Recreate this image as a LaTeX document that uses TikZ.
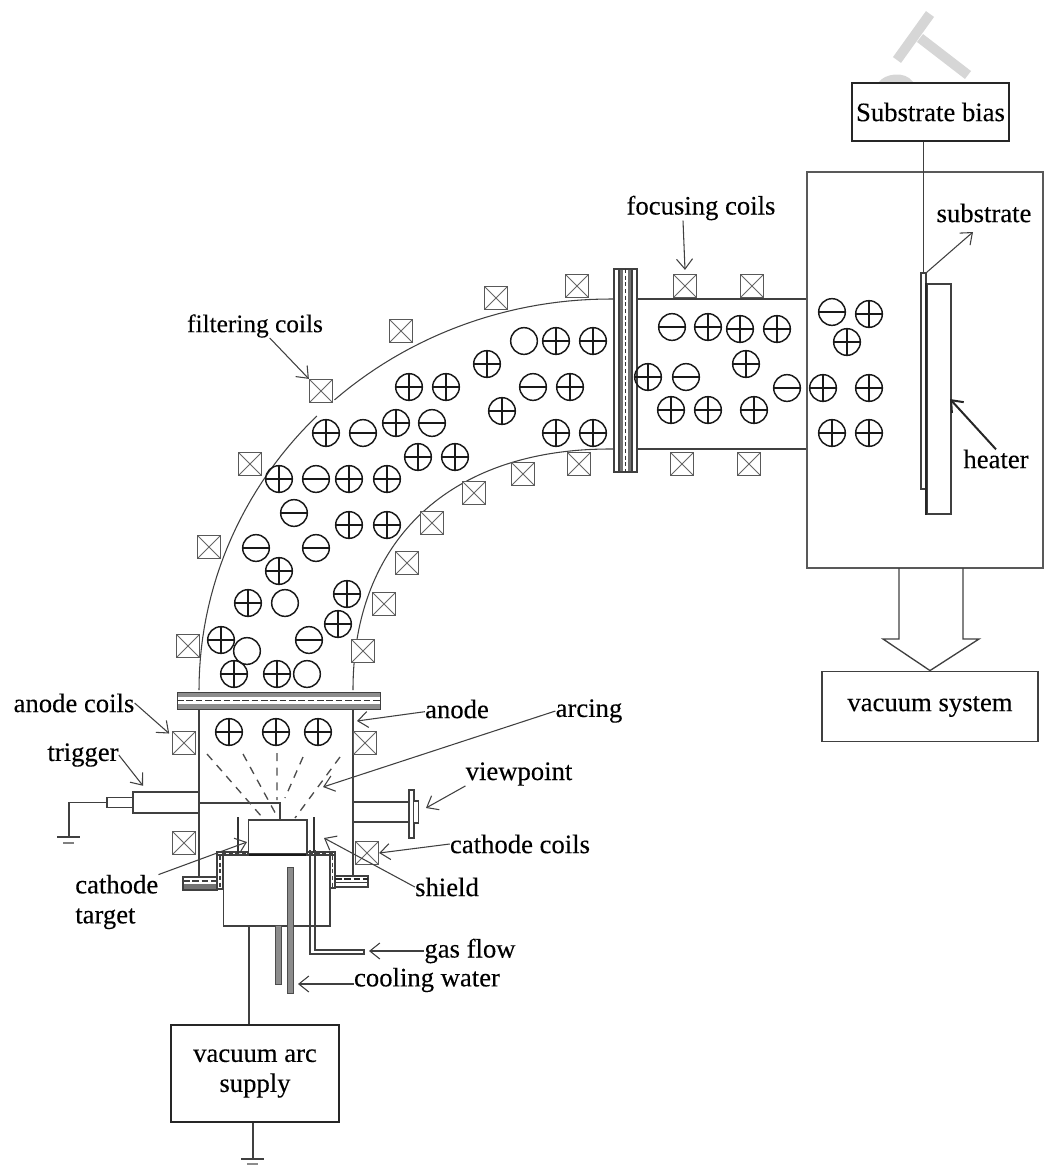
\documentclass[tikz,border=0pt]{standalone}
\usepackage{fontspec}
\setmainfont[FakeBold=0.2]{Liberation Serif}
\usetikzlibrary{arrows.meta,positioning,calc}
\colorlet{wallc}{black!75}
\colorlet{markc}{black!90}
\tikzset{
  lbl/.style={inner sep=0pt,font=\fontsize{20}{22.5}\selectfont,text=black},
  boxnode/.style={draw=black!85,line width=1.1pt,fill=white,inner sep=0pt,align=center,font=\fontsize{20}{22.5}\selectfont,text=black},
  lead/.style={draw=black!75,line width=0.8pt,-{Straight Barb[length=7.5pt,width=12pt]}},
  wall/.style={draw=wallc,line width=0.9pt},
  coil/.style={draw=black!65,fill=white,line width=1.2pt,inner sep=0pt,minimum size=17pt,
    path picture={\draw[black!60,line width=0.7pt] (path picture bounding box.north west) -- (path picture bounding box.south east)
      (path picture bounding box.north east) -- (path picture bounding box.south west);}},
  ionzero/.style={circle,draw=markc,line width=1.1pt,inner sep=0pt,minimum size=20pt},
  ionplus/.style={ionzero,path picture={\draw[markc,line width=1pt] (path picture bounding box.north) -- (path picture bounding box.south)
      (path picture bounding box.west) -- (path picture bounding box.east);}},
  ionminus/.style={ionzero,path picture={\draw[markc,line width=1pt] (path picture bounding box.west) -- (path picture bounding box.east);}},
  tube/.style={draw=black!70,fill=black!45,line width=0.6pt,inner sep=0pt},
  plain/.style={draw=wallc,fill=white,line width=0.9pt,inner sep=0pt},
  ray/.style={draw=black!70,line width=1pt,dash pattern=on 6pt off 5pt},
}
\begin{document}
\begin{tikzpicture}[x=0.75pt,y=-0.75pt]
  \useasboundingbox (0,0) rectangle (1047,1165);
  % pale stamp behind the bias box
  \draw[black!16,line width=7.5pt] (930,14) -- (897,60) (920,38) -- (968,75);
  \fill[black!16] (879,82) .. controls (884,74) and (905,70) .. (913,82) -- cycle;

  % filter duct
  \draw[wall,line width=0.8pt] plot[domain=0:44.5,samples=30] ({610-411*cos(\x)},{690-391*sin(\x)});
  \draw[wall,line width=0.8pt] plot[domain=47.9:90,samples=30] ({610-411*cos(\x)},{690-391*sin(\x)}) -- (614,299);
  \draw[wall,line width=0.8pt] (353,690) .. controls (353,540) and (450,449) .. (610,449) -- (614,449);
  % focusing duct
  \draw[wall] (637,299) -- (807,299) (637,449) -- (807,449);
  % chamber
  \node[draw=black!65,line width=1.1pt,inner sep=0pt,minimum width=177pt,minimum height=297pt] (chamber) at (925,370) {};
  % bias
  \node[boxnode,minimum width=118pt,minimum height=43.5pt] (boxbias) at (930.5,112) {Substrate bias};
  \node[plain,minimum width=3.75pt,minimum height=162pt] (subst) at (923.5,381) {};
  \node[plain,minimum width=18pt,minimum height=172.5pt] (heater) at (939,399) {};
  \draw[black!85,line width=1.4pt] (heater.north west) -- (heater.south west);
  \draw[wall,line width=1.1pt] (boxbias.south -| subst.north) -- (subst.north);
  % exhaust
  \node[boxnode,draw=black!75,line width=0.9pt,minimum width=162pt,minimum height=53pt] (boxvac) at (930,706.5) {vacuum system};
  \draw[wall,line width=1pt] (899,568) -- (899,639) -- (883,639) -- (boxvac.north) -- (979,639) -- (963,639) -- (963,568);

  % coupling flange
  \fill[black!55] (619,269) rectangle (632,472);
  \fill[white] (623,269) rectangle (628,472);
  \draw[wall] (614,269) rectangle (637,472) (619,269) -- (619,472) (632,269) -- (632,472);
  \draw[black!80,line width=1pt,dash pattern=on 3pt off 2pt] (625.5,269) -- (625.5,472);

  % source walls
  \draw[wall] (199,709) -- (199,877) (353,709) -- (353,876);
  % anode ring
  \fill[black!45] (177,692) rectangle (380,709);
  \fill[white] (177,697) rectangle (380,704);
  \draw[black!75,line width=0.7pt] (177,692) rectangle (380,709);
  \draw[black!80,line width=0.8pt,dash pattern=on 5pt off 2pt] (177,700.5) -- (380,700.5);
  % viewport
  \draw[wall] (353,802) -- (409,802) (353,822) -- (409,822);
  \node[plain,minimum width=3.75pt,minimum height=36pt] (viewflange) at (411.5,814) {};
  \node[plain,minimum width=3.75pt,minimum height=16.5pt] (viewglass) at (416,812) {};
  % trigger
  \node[plain,line width=1.1pt,minimum width=49.5pt,minimum height=16pt] (trigbody) at (166,802.5) {};
  \node[plain,minimum width=19.5pt,minimum height=8pt] (trigtip) at (120,802.5) {};
  \coordinate (gndtrig) at (69,837);
  \draw[wall] (trigtip.west) -| (gndtrig);
  \draw[wall] (57,837) -- (80,837);
  \draw[black!50,line width=0.8pt] (63,843) -- (74,843);
  \coordinate (trigpin) at (280,819);
  \draw[wall,line width=1pt] (199,803) -| (trigpin);

  % arc rays
  \draw[ray] (207,754) -- (262,817) (243,754) -- (278,818) (277,753) -- (277,800)
    (303,757) -- (285,798) (340,757) -- (295,818);

  % cathode block
  \node[plain,line width=1pt,minimum width=80pt,minimum height=53pt] (cathbox) at (276.5,890.5) {};
  \node[plain,line width=1pt,minimum width=44pt,minimum height=25.5pt] (target) at (277.5,837) {};
  \draw[black!90,line width=1.6pt] (target.south west) -- (target.south east);
  % shell walls
  \draw[wall,fill=white] (217,852) rectangle (223,889) (330,852) rectangle (335,888);
  \draw[wall,fill=white] (217,852) rectangle (248,855) (307,852) rectangle (335,855);
  \draw[black!75,line width=1pt,dash pattern=on 3pt off 2pt] (220,856) -- (220,889) (332.5,856) -- (332.5,888) (222,853.5) -- (246,853.5) (309,853.5) -- (333,853.5);
  % shields
  \draw[black!80,line width=1.7pt] (238,817) -- (238,853) (314,817) -- (314,853);
  % base flanges
  \fill[black!55] (183,884) rectangle (217,890);
  \draw[wall] (183,877) rectangle (217,890);
  \draw[black!75,line width=0.8pt,dash pattern=on 5pt off 2pt] (183,881) -- (217,881);
  \draw[wall] (335,876) rectangle (368,887) (335,882.5) -- (368,882.5);
  \draw[black!85,line width=1pt,dash pattern=on 5pt off 2pt] (335,879) -- (368,879);
  % gas and water tubes
  \draw[wall,line width=1pt] (310,850) -- (310,954) -- (364,954) -- (364,950) -- (315,950) -- (315,850);
  \node[tube,minimum width=5pt,minimum height=44.25pt] (tubeout) at (278.5,954.5) {};
  \node[tube,minimum width=5pt,minimum height=94.5pt] (tubein) at (290.5,930) {};

  % arc supply
  \node[boxnode,minimum width=126pt,minimum height=73pt] (boxarc) at (255,1073.5) {vacuum arc\\supply};
  \draw[wall,line width=1pt] (cathbox.south -| 249,0) -- (boxarc.north -| 249,0);
  \coordinate (gndarc) at (253,1159);
  \draw[wall,line width=1pt] (boxarc.south -| gndarc) -- (gndarc);
  \draw[wall,line width=1.1pt] (241,1159) -- (264,1159);
  \draw[black!45,line width=1pt] (247,1164) -- (258,1164);

  % coils
  \foreach \x/\y [count=\i] in {496/298,577/286,401/331,321/391,250/464,209/547,188/646,
      363/651,384/604,407/563,432/523,474/493,523/474,579/464,685/286,752/286,682/464,749/464,
      184/743,365/743,184/843,367/853}
    \node[coil] (coil\i) at (\x,\y) {};
  % ions
  \foreach \x/\y [count=\i] in {556/341,593/341,487/364,409/387,446/387,570/387,502/411,326/433,396/423,
      556/433,593/433,418/457,455/457,279/479,349/479,387/479,349/525,387/525,279/571,347/594,248/603,
      338/624,221/640,234/674,277/674,708/327,740/329,777/329,648/377,746/364,671/410,708/410,754/410,
      823/388,869/388,869/314,847/342,832/433,869/433,229/732,276/732,318/732}
    \node[ionplus] (ionp\i) at (\x,\y) {};
  \foreach \x/\y [count=\i] in {533/387,363/433,432/423,316/479,294/513,256/548,316/548,309/640,
      672/327,686/377,787/388,832/312}
    \node[ionminus] (ionm\i) at (\x,\y) {};
  \foreach \x/\y [count=\i] in {524/341,285/603,247/651,307/674}
    \node[ionzero] (ionz\i) at (\x,\y) {};

  % labels
  \node[lbl,font=\fontsize{19}{22}\selectfont] (lblfilter) at (255,326) {filtering coils};
  \node[lbl] (lblfocus) at (701,208) {focusing coils};
  \node[lbl] (lblsubst) at (984,213) {substrate};
  \node[lbl] (lblheater) at (996,459) {heater};
  \node[lbl] (lblanodec) at (74,703) {anode coils};
  \node[lbl] (lbltrig) at (83,755) {trigger};
  \node[lbl,anchor=west,align=left] (lblcath) at (75,902) {cathode\\target};
  \node[lbl] (lblanode) at (457,709) {anode};
  \node[lbl] (lblarc) at (589,711) {arcing};
  \node[lbl] (lblview) at (519,774) {viewpoint};
  \node[lbl] (lblcathc) at (520,844) {cathode coils};
  \node[lbl] (lblshield) at (447,887) {shield};
  \node[lbl] (lblgas) at (470,951) {gas flow};
  \node[lbl] (lblwater) at (427,980) {cooling water};

  % leaders
  \coordinate (tipsubst) at (973,232);
  \coordinate (tipheater) at (950,399);
  \coordinate (tipanode) at (357,721);
  \coordinate (tiparc) at (323,787);
  \coordinate (tipview) at (426,808);
  \coordinate (tipshield) at (324,838);
  \coordinate (tipcath) at (247,842);
  \coordinate (tipgas) at (369,951);
  \coordinate (tipwater) at (298,984);
  \draw[lead] ([xshift=11pt]lblfilter.south) -- (coil4.north west);
  \draw[lead] ([xshift=-13.5pt]lblfocus.south) -- ([yshift=3pt]coil15.north);
  \draw[lead] (subst.north east) -- (tipsubst);
  \draw[lead,line width=1.5pt,draw=black!85] (lblheater.north) -- (tipheater);
  \draw[lead] (lblanodec.east) -- ([shift={(-2pt,-2pt)}]coil19.north west);
  \draw[lead] (lbltrig.east) -- ([yshift=4pt]trigbody.north west -| 143,0);
  \draw[lead] (lblcath.north east) -- (tipcath);
  \draw[lead] ([yshift=-2pt]lblanode.west) -- (tipanode);
  \draw[lead] (lblarc.west) -- (tiparc);
  \draw[lead] (lblview.south west) -- (tipview);
  \draw[lead] (lblcathc.west) -- (coil22.east);
  \draw[lead] (lblshield.west) -- (tipshield);
  \draw[lead] (lblgas.west) -- (tipgas);
  \draw[lead] ([yshift=-3pt]lblwater.west) -- (tipwater);
\end{tikzpicture}
\end{document}
